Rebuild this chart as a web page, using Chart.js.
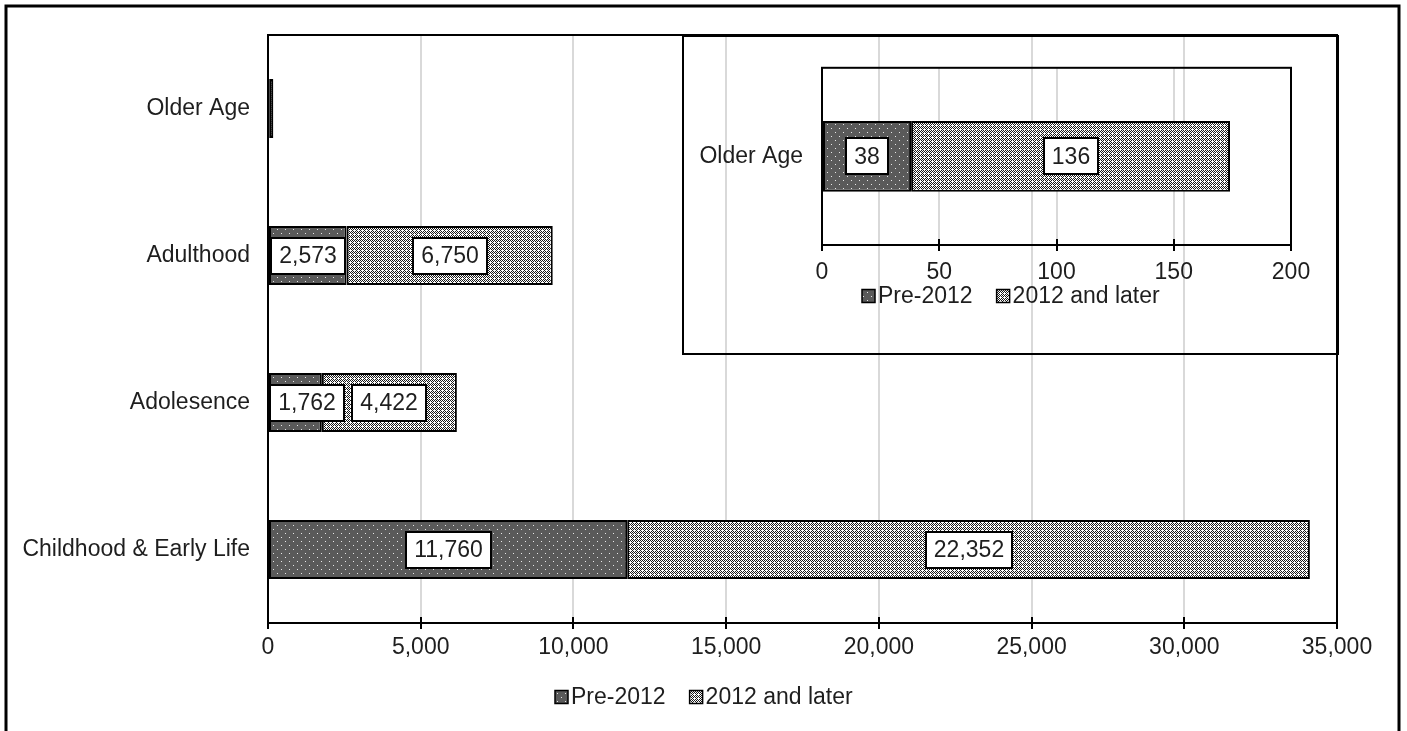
<!DOCTYPE html>
<html>
<head>
<meta charset="utf-8">
<script src="https://cdn.jsdelivr.net/npm/chart.js@4.4.0/dist/chart.umd.min.js"></script>
<style>
  html, body { margin: 0; padding: 0; background: #fff; }
  #wrap { position: relative; width: 1407px; height: 731px; overflow: hidden; }
  #main { position: absolute; left: 0; top: 0; }
  #inset { position: absolute; left: 682px; top: 35px; }
</style>
</head>
<body>
<div id="wrap">
  <canvas id="main" width="1407" height="731"></canvas>
  <canvas id="inset" width="657" height="320"></canvas>
</div>
<script>
// Life stages, top to bottom
const categories = ['Older Age', 'Adulthood', 'Adolesence', 'Childhood & Early Life'];
// Counts by period
const pre2012 = [38, 2573, 1762, 11760];
const since2012 = [136, 6750, 4422, 22352];
const seriesNames = ['Pre-2012', '2012 and later'];
// Axis ticks
const mainTicks = [0, 5000, 10000, 15000, 20000, 25000, 30000, 35000];
const insetTicks = [0, 50, 100, 150, 200];
// The zoomed panel shows only this stage
const insetCategories = ['Older Age'];
// Stages whose bars are too short to carry value boxes on the main axis
const unlabelledMain = ['Older Age'];

const FONT = '"Liberation Sans", Arial, sans-serif';
const FSIZE = 23;
const TEXT = '#1e1e1e';
const fmt = v => Number(v).toLocaleString('en-US');

// Dark fill with a sparse white dot grid
function dotPattern() {
  const c = document.createElement('canvas');
  c.width = 8; c.height = 8;
  const g = c.getContext('2d');
  g.fillStyle = '#5a5a5a'; g.fillRect(0, 0, 8, 8);
  g.fillStyle = '#e8e8e8';
  g.fillRect(1, 1, 1, 1);
  g.fillRect(5, 5, 1, 1);
  return g.createPattern(c, 'repeat');
}
// Light fill with a dark checker lattice broken by white openings
function latticePattern() {
  const c = document.createElement('canvas');
  c.width = 8; c.height = 8;
  const g = c.getContext('2d');
  g.fillStyle = '#ffffff'; g.fillRect(0, 0, 8, 8);
  g.fillStyle = '#1a1a1a';
  for (let y = 0; y < 8; y++) {
    for (let x = 0; x < 8; x++) {
      const dark = (x + y) % 2 === 0 && !(x % 4 === 2 && y % 4 === 2);
      if (dark) g.fillRect(x, y, 1, 1);
    }
  }
  return g.createPattern(c, 'repeat');
}
const fillPre = dotPattern();
const fillPost = latticePattern();

// Plot box, crossing tick marks and an optional outer frame
const framePlugin = {
  id: 'frame',
  afterDatasetsDraw(chart, args, opts) {
    const { ctx, chartArea: a } = chart;
    const xs = chart.scales.x;
    ctx.save();
    ctx.strokeStyle = '#000';
    ctx.lineWidth = 2;
    ctx.strokeRect(a.left, a.top, a.right - a.left, a.bottom - a.top);
    ctx.beginPath();
    xs.ticks.forEach(t => {
      const px = Math.round(xs.getPixelForValue(t.value));
      ctx.moveTo(px, a.bottom - 6);
      ctx.lineTo(px, a.bottom);
    });
    ctx.stroke();
    if (opts.outer) {
      ctx.lineWidth = 3;
      ctx.strokeRect(6, 6, 1393, 760);
    }
    if (opts.edge) {
      ctx.lineWidth = 2;
      ctx.strokeRect(1, 1, chart.width - 2, chart.height - 2);
    }
    ctx.restore();
  }
};

// White value boxes centred on each bar segment
const valueLabels = {
  id: 'valueLabels',
  afterDatasetsDraw(chart, args, opts) {
    const { ctx, chartArea: a } = chart;
    const skip = opts.skip || [];
    ctx.save();
    ctx.font = FSIZE + 'px ' + FONT;
    ctx.textAlign = 'center';
    ctx.textBaseline = 'middle';
    chart.data.datasets.forEach((ds, di) => {
      const meta = chart.getDatasetMeta(di);
      meta.data.forEach((bar, i) => {
        if (skip.includes(chart.data.labels[i])) return;
        const text = fmt(ds.data[i]);
        const w = Math.round(ctx.measureText(text).width + 16);
        const h = 36;
        let left = Math.round((bar.x + bar.base) / 2 - w / 2);
        if (left < a.left + 2) left = a.left + 2;
        const top = Math.round(bar.y - h / 2);
        ctx.fillStyle = '#fff';
        ctx.fillRect(left, top, w, h);
        ctx.strokeStyle = '#000';
        ctx.lineWidth = 2;
        ctx.strokeRect(left, top, w, h);
        ctx.fillStyle = TEXT;
        ctx.fillText(text, left + w / 2, bar.y + 1);
      });
    });
    ctx.restore();
  }
};

// Swatch legend centred under the plot
const swatchLegend = {
  id: 'swatchLegend',
  afterDraw(chart, args, opts) {
    const ctx = chart.ctx;
    ctx.save();
    ctx.font = FSIZE + 'px ' + FONT;
    ctx.textBaseline = 'middle';
    ctx.textAlign = 'left';
    const box = 13, gap = 3, between = 24;
    const items = chart.data.datasets.map(ds => ({
      text: ds.label, fill: ds.backgroundColor, w: ctx.measureText(ds.label).width
    }));
    const total = items.reduce((s, it) => s + box + gap + it.w, 0) + between * (items.length - 1);
    let x = Math.round(chart.width / 2 - total / 2);
    const y = opts.y;
    items.forEach(it => {
      ctx.fillStyle = it.fill;
      ctx.fillRect(x, y - box / 2, box, box);
      ctx.strokeStyle = '#000';
      ctx.lineWidth = 1.5;
      ctx.strokeRect(x, y - box / 2, box, box);
      ctx.fillStyle = TEXT;
      ctx.fillText(it.text, x + box + gap, y + 1);
      x += box + gap + it.w + between;
    });
    ctx.restore();
  }
};

function makeDatasets(idx) {
  return [
    { label: seriesNames[0], data: idx.map(i => pre2012[i]), backgroundColor: fillPre },
    { label: seriesNames[1], data: idx.map(i => since2012[i]), backgroundColor: fillPost }
  ].map(d => Object.assign(d, {
    borderColor: '#000', borderWidth: 2, borderSkipped: false
  }));
}

function buildOptions(cfg) {
  return {
    indexAxis: 'y',
    responsive: false,
    animation: false,
    devicePixelRatio: 1,
    layout: { padding: cfg.padding },
    datasets: { bar: { categoryPercentage: cfg.catPct, barPercentage: 0.5 } },
    plugins: {
      legend: { display: false },
      tooltip: { enabled: false },
      valueLabels: { skip: cfg.skip },
      swatchLegend: { y: cfg.legendY },
      frame: { outer: cfg.outer, edge: cfg.edge }
    },
    scales: {
      x: {
        stacked: true,
        min: cfg.ticks[0],
        max: cfg.ticks[cfg.ticks.length - 1],
        afterBuildTicks: s => { s.ticks = cfg.ticks.map(v => ({ value: v })); },
        afterFit: s => { s.height = cfg.xHeight; },
        grid: { color: '#d9d9d9', lineWidth: 2, tickColor: '#000', tickLength: 6, drawTicks: true },
        border: { display: true, color: '#000', width: 2 },
        ticks: {
          padding: cfg.xPad,
          color: TEXT,
          font: { family: FONT, size: FSIZE },
          maxRotation: 0,
          callback: v => fmt(v)
        }
      },
      y: {
        stacked: true,
        afterFit: s => { s.width = cfg.yWidth; },
        grid: { display: false, drawTicks: false },
        border: { display: true, color: '#000', width: 2 },
        ticks: { padding: cfg.yPad, color: TEXT, font: { family: FONT, size: FSIZE } }
      }
    }
  };
}

Chart.register(framePlugin, valueLabels, swatchLegend);

// Full-range chart
new Chart(document.getElementById('main'), {
  type: 'bar',
  data: { labels: categories, datasets: makeDatasets(categories.map((_, i) => i)) },
  options: buildOptions({
    padding: { left: 0, right: 70, top: 35, bottom: 0 },
    catPct: 0.8,
    skip: unlabelledMain,
    legendY: 697,
    outer: true,
    edge: false,
    ticks: mainTicks,
    xHeight: 108,
    xPad: 5,
    yWidth: 268,
    yPad: 18
  })
});

// Zoomed panel for the smallest stage
new Chart(document.getElementById('inset'), {
  type: 'bar',
  data: {
    labels: insetCategories,
    datasets: makeDatasets(insetCategories.map(c => categories.indexOf(c)))
  },
  options: buildOptions({
    padding: { left: 0, right: 48, top: 28, bottom: 0 },
    catPct: 0.8,
    skip: [],
    legendY: 261,
    outer: false,
    edge: true,
    ticks: insetTicks,
    xHeight: 110,
    xPad: 8,
    yWidth: 140,
    yPad: 19
  })
});
</script>
</body>
</html>
